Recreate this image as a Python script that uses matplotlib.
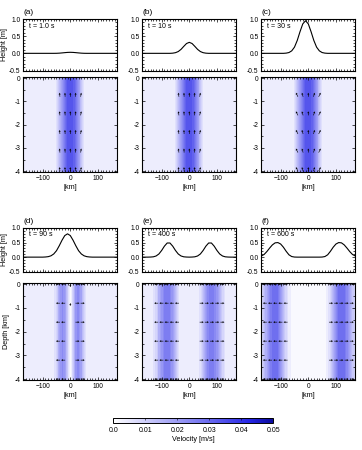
import numpy as np
import matplotlib
matplotlib.use('Agg')
import matplotlib.pyplot as plt
from matplotlib.colors import LinearSegmentedColormap, Normalize
from matplotlib.cm import ScalarMappable
from matplotlib.ticker import MultipleLocator

plt.rcParams['font.family'] = ['Liberation Sans', 'DejaVu Sans']

# Horizontal sample positions [km] (10 km spacing, -170 ... 170)
x_km = np.arange(-170, 171, 10)

panel_tags = ['(a)', '(b)', '(c)', '(d)', '(e)', '(f)']
time_labels = ['t = 1.0 s', 't = 10 s', 't = 30 s', 't = 90 s', 't = 400 s', 't = 600 s']

# Sea surface height [m]
h_a = [0, 0, 0, 0, 0, 0, 0, 0, 0, 0, 0, 0, 0.001, 0.005, 0.012, 0.02, 0.027, 0.03,
       0.027, 0.02, 0.012, 0.005, 0.001, 0, 0, 0, 0, 0, 0, 0, 0, 0, 0, 0, 0]
h_b = [0, 0, 0, 0, 0, 0, 0, 0, 0, 0, 0, 0.005, 0.019, 0.052, 0.115, 0.203, 0.286, 0.32,
       0.286, 0.203, 0.115, 0.052, 0.019, 0.005, 0, 0, 0, 0, 0, 0, 0, 0, 0, 0, 0]
h_c = [0, 0, 0, 0, 0, 0, 0, 0, 0, 0.006, 0.023, 0.072, 0.18, 0.375, 0.63, 0.857, 0.95,
       0.857, 0.63, 0.375, 0.18, 0.072, 0.023, 0.006, 0, 0, 0, 0, 0, 0, 0, 0, 0, 0, 0]
h_d = [0, 0, 0, 0, 0, 0, 0, 0, 0.005, 0.016, 0.045, 0.108, 0.22, 0.39, 0.58, 0.74, 0.8,
       0.74, 0.58, 0.39, 0.22, 0.108, 0.045, 0.016, 0.005, 0, 0, 0, 0, 0, 0, 0, 0, 0, 0]
h_e = [0, 0, 0, 0.003, 0.011, 0.04, 0.108, 0.229, 0.377, 0.485, 0.485, 0.377, 0.229,
       0.108, 0.04, 0.011, 0.003, 0, 0.003, 0.011, 0.04, 0.108, 0.229, 0.377, 0.485,
       0.485, 0.377, 0.229, 0.108, 0.04, 0.011, 0.003, 0, 0, 0]
h_f = [0.04, 0.09, 0.19, 0.31, 0.42, 0.49, 0.5, 0.45, 0.34, 0.2, 0.08, 0.02, 0.003,
       0, 0, 0, 0, 0, 0, 0, 0, 0, 0.003, 0.02, 0.08, 0.2, 0.34, 0.45, 0.5, 0.49, 0.42,
       0.31, 0.19, 0.09, 0.04]
heights = [h_a, h_b, h_c, h_d, h_e, h_f]

# Velocity magnitude [m/s] across the section (uniform with depth)
v_abc = [0.003, 0.003, 0.003, 0.003, 0.003, 0.003, 0.003, 0.003, 0.003, 0.003, 0.003,
         0.003, 0.005, 0.013, 0.021, 0.028, 0.033, 0.035, 0.033, 0.028, 0.021, 0.012,
         0.005, 0.003, 0.003, 0.003, 0.003, 0.003, 0.003, 0.003, 0.003, 0.003, 0.003,
         0.003, 0.003]
v_d = [0.003, 0.003, 0.003, 0.003, 0.003, 0.003, 0.003, 0.003, 0.003, 0.003, 0.003,
       0.004, 0.009, 0.018, 0.023, 0.022, 0.01, 0.0, 0.01, 0.022, 0.023, 0.018, 0.009,
       0.004, 0.003, 0.003, 0.003, 0.003, 0.003, 0.003, 0.003, 0.003, 0.003, 0.003, 0.003]
v_e = [0.003, 0.003, 0.003, 0.003, 0.005, 0.009, 0.016, 0.021, 0.025, 0.026, 0.025,
       0.02, 0.013, 0.006, 0.003, 0.003, 0.003, 0.003, 0.003, 0.003, 0.003, 0.006,
       0.013, 0.02, 0.025, 0.026, 0.025, 0.021, 0.016, 0.009, 0.005, 0.003, 0.003,
       0.003, 0.003]
v_f = [0.008, 0.012, 0.018, 0.024, 0.028, 0.029, 0.028, 0.022, 0.015, 0.008, 0.004,
       0.002, 0.001, 0.001, 0.001, 0.001, 0.001, 0.001, 0.001, 0.001, 0.001, 0.001,
       0.001, 0.002, 0.004, 0.008, 0.015, 0.022, 0.028, 0.029, 0.028, 0.024, 0.018,
       0.012, 0.008]
velocities = [v_abc, v_abc, v_abc, v_d, v_e, v_f]

# Flow-direction arrows: columns [km], direction components (screen units)
arrow_rows = [0, -0.8, -1.6, -2.4, -3.2, -4.0]
arr_x_a = [-37.5, -18.75, 0, 18.75, 37.5]
arr_u_a = [-0.1, -0.05, 0, 0.05, 0.15]
arr_v_a = [1, 1, 1, 1, 1]
arr_x_b = [-37.5, -18.75, 0, 18.75, 37.5]
arr_u_b = [-0.15, -0.05, 0, 0.05, 0.2]
arr_v_b = [1, 1, 1, 1, 1]
arr_x_c = [-37.5, -18.75, 0, 18.75, 37.5]
arr_u_c = [-0.5, -0.3, 0, 0.3, 0.5]
arr_v_c = [1, 1, 1, 1, 1]
arr_x_d = [-37.5, -18.75, 18.75, 37.5]
arr_u_d = [-1, -1, 1, 1]
arr_v_d = [0, 0, 0, 0]
arr_x_e = [-112.5, -93.75, -75, -56.25, -37.5, 37.5, 56.25, 75, 93.75, 112.5]
arr_u_e = [-1, -1, -1, -1, -1, 1, 1, 1, 1, 1]
arr_v_e = [0, 0, 0, 0, 0, 0, 0, 0, 0, 0]
arr_x_f = [-150, -131.25, -112.5, -93.75, -75, 75, 93.75, 112.5, 131.25, 150]
arr_u_f = [-1, -1, -1, -1, -1, 1, 1, 1, 1, 1]
arr_v_f = [0, 0, 0, 0, 0, 0, 0, 0, 0, 0]
arrows = [(arr_x_a, arr_u_a, arr_v_a), (arr_x_b, arr_u_b, arr_v_b),
          (arr_x_c, arr_u_c, arr_v_c), (arr_x_d, arr_u_d, arr_v_d),
          (arr_x_e, arr_u_e, arr_v_e), (arr_x_f, arr_u_f, arr_v_f)]
# extra downward arrows at the centre of panel (d)
center_x_d = [0, 0]
center_y_d = [0, -0.8]
center_v_d = [-0.7, -0.7]

cbar_ticks = [0.0, 0.01, 0.02, 0.03, 0.04, 0.05]
cbar_labels = ['0.0', '0.01', '0.02', '0.03', '0.04', '0.05']

cmap = LinearSegmentedColormap.from_list(
    'vel', [(0.0, '#ffffff'), (0.5, '#8484f2'), (0.85, '#2626e6'), (1.0, '#0a0a9c')])
norm = Normalize(0, 0.05)
levels = np.arange(0, 0.0501, 0.0025)

W, H = 362, 450
fig = plt.figure(figsize=(W / 100, H / 100), dpi=100)


def px_axes(left, top, w, h):
    return fig.add_axes([left / W, 1 - (top + h) / H, w / W, h / H])


def frame_style(ax):
    ax.tick_params(which='both', direction='in', top=True, right=True,
                   labelsize=4.8, pad=2, width=0.5)
    ax.tick_params(which='major', length=2.5)
    ax.tick_params(which='minor', length=1.3)
    for s in ax.spines.values():
        s.set_linewidth(0.8)


col_left = [23.3, 142.3, 261.3]
col_w = 94
# (top of height panel, its height, top of section panel, its height) for each row
row_geom = [(19, 51.5, 77, 95.3), (228, 43.7, 283, 97.3)]

for i in range(6):
    r, c = divmod(i, 3)
    ht, hh, st, sh = row_geom[r]
    left = col_left[c]

    # sea-surface height panel
    ax1 = px_axes(left, ht, col_w, hh)
    ax1.plot(x_km, heights[i], color='k', lw=0.8)
    ax1.set_xlim(-170, 170)
    ax1.set_ylim(-0.5, 1.0)
    ax1.set_yticks([-0.5, 0.0, 0.5, 1.0])
    ax1.set_yticklabels(['-0.5', '0.0', '0.5', '1.0'])
    ax1.set_xticks([-100, 0, 100])
    ax1.xaxis.set_minor_locator(MultipleLocator(10))
    ax1.yaxis.set_minor_locator(MultipleLocator(0.1))
    ax1.set_xticklabels([])
    frame_style(ax1)
    ax1.text(0.06, 0.85, time_labels[i], transform=ax1.transAxes, fontsize=5,
             va='center', ha='left')
    ax1.text(0.0, 1.06, panel_tags[i], transform=ax1.transAxes, fontsize=6,
             va='bottom', ha='left')
    if c == 0:
        ax1.set_ylabel('Height [m]', fontsize=5.2, labelpad=1)

    # velocity section panel
    ax2 = px_axes(left, st, col_w, sh)
    vel = np.vstack([velocities[i], velocities[i]])
    ax2.contourf(x_km, [0.1, -4.1], vel, levels=levels, cmap=cmap, norm=norm)
    ax_x, ax_u, ax_v = arrows[i]
    X, Y = np.meshgrid(ax_x, arrow_rows)
    U = np.tile(ax_u, (len(arrow_rows), 1))
    V = np.tile(ax_v, (len(arrow_rows), 1))
    qkw = dict(angles='uv', scale_units='dots', scale=0.25, units='dots', width=0.6,
               headwidth=3.6, headlength=3.2, headaxislength=2.8, color='k', pivot='tail')
    ax2.quiver(X, Y, U, V, **qkw)
    if i == 3:
        ax2.quiver(center_x_d, center_y_d, [0, 0], center_v_d, **qkw)
    ax2.set_xlim(-170, 170)
    ax2.set_ylim(-4.05, 0.05)
    ax2.set_xticks([-100, 0, 100])
    ax2.set_yticks([0, -1, -2, -3, -4])
    ax2.set_yticklabels(['0', '-1', '-2', '-3', '-4'])
    ax2.xaxis.set_minor_locator(MultipleLocator(10))
    ax2.yaxis.set_minor_locator(MultipleLocator(0.5))
    frame_style(ax2)
    ax2.set_xlabel('[km]', fontsize=5.2, labelpad=1.5)
    if i == 3:
        ax2.set_ylabel('Depth [km]', fontsize=5.2, labelpad=3)

# colour bar
cax = px_axes(113.3, 418, 160, 4.5)
cb = fig.colorbar(ScalarMappable(norm=norm, cmap=cmap), cax=cax, orientation='horizontal',
                  ticks=cbar_ticks)
cb.ax.set_xticklabels(cbar_labels)
cb.ax.tick_params(direction='in', top=True, bottom=False, length=1.5, width=0.4,
                  labelsize=5, pad=3)
cb.outline.set_linewidth(0.7)
cb.set_label('Velocity [m/s]', fontsize=5.2, labelpad=2)

fig.savefig('out.png', dpi=100)
